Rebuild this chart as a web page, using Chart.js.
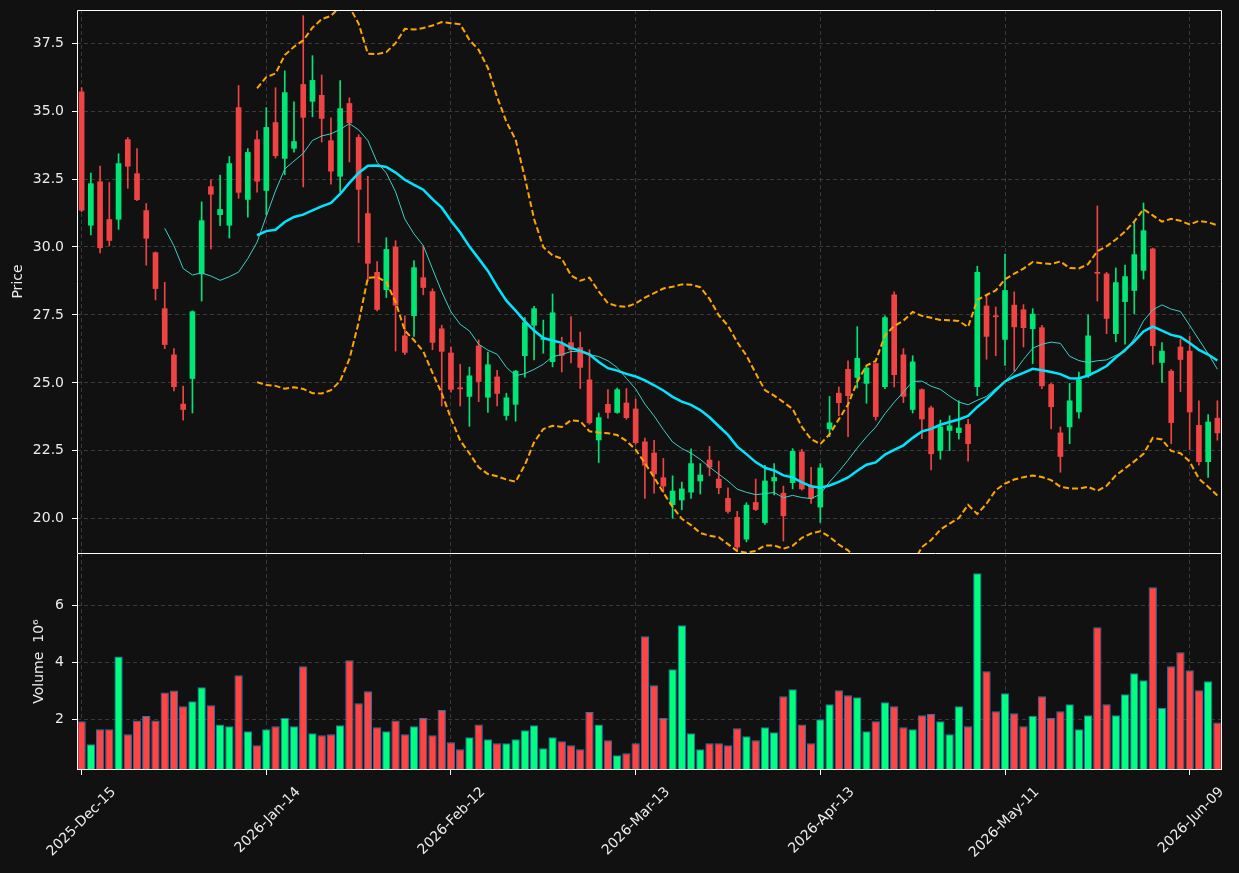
<!DOCTYPE html>
<html>
<head>
<meta charset="utf-8">
<script src="https://cdn.jsdelivr.net/npm/chart.js@4.4.1/dist/chart.umd.min.js"></script>
<style>
  html, body { margin: 0; padding: 0; background: #111111; }
  #wrap { position: relative; width: 1239px; height: 873px; }
  #priceBox { position: absolute; left: 0; top: 0; width: 1239px; height: 553px; }
  #volBox { position: absolute; left: 0; top: 553px; width: 1239px; height: 320px; }
</style>
</head>
<body>
<div id="wrap">
  <div id="priceBox"><canvas id="priceChart"></canvas></div>
  <div id="volBox"><canvas id="volChart"></canvas></div>
</div>
<script>
// trading days (categories)
const dates = [
  '2025-Dec-15','2025-Dec-16','2025-Dec-17','2025-Dec-18','2025-Dec-19','2025-Dec-22','2025-Dec-23','2025-Dec-24','2025-Dec-26','2025-Dec-29','2025-Dec-30','2025-Dec-31',
  '2026-Jan-02','2026-Jan-05','2026-Jan-06','2026-Jan-07','2026-Jan-08','2026-Jan-09','2026-Jan-12','2026-Jan-13','2026-Jan-14','2026-Jan-15','2026-Jan-16','2026-Jan-20','2026-Jan-21','2026-Jan-22','2026-Jan-23','2026-Jan-26','2026-Jan-27','2026-Jan-28','2026-Jan-29','2026-Jan-30',
  '2026-Feb-02','2026-Feb-03','2026-Feb-04','2026-Feb-05','2026-Feb-06','2026-Feb-09','2026-Feb-10','2026-Feb-11','2026-Feb-12','2026-Feb-13','2026-Feb-17','2026-Feb-18','2026-Feb-19','2026-Feb-20','2026-Feb-23','2026-Feb-24','2026-Feb-25','2026-Feb-26','2026-Feb-27',
  '2026-Mar-02','2026-Mar-03','2026-Mar-04','2026-Mar-05','2026-Mar-06','2026-Mar-09','2026-Mar-10','2026-Mar-11','2026-Mar-12','2026-Mar-13','2026-Mar-16','2026-Mar-17','2026-Mar-18','2026-Mar-19','2026-Mar-20','2026-Mar-23','2026-Mar-24','2026-Mar-25','2026-Mar-26','2026-Mar-27','2026-Mar-30','2026-Mar-31',
  '2026-Apr-01','2026-Apr-02','2026-Apr-06','2026-Apr-07','2026-Apr-08','2026-Apr-09','2026-Apr-10','2026-Apr-13','2026-Apr-14','2026-Apr-15','2026-Apr-16','2026-Apr-17','2026-Apr-20','2026-Apr-21','2026-Apr-22','2026-Apr-23','2026-Apr-24','2026-Apr-27','2026-Apr-28','2026-Apr-29','2026-Apr-30',
  '2026-May-01','2026-May-04','2026-May-05','2026-May-06','2026-May-07','2026-May-08','2026-May-11','2026-May-12','2026-May-13','2026-May-14','2026-May-15','2026-May-18','2026-May-19','2026-May-20','2026-May-21','2026-May-22','2026-May-26','2026-May-27','2026-May-28','2026-May-29',
  '2026-Jun-01','2026-Jun-02','2026-Jun-03','2026-Jun-04','2026-Jun-05','2026-Jun-08','2026-Jun-09','2026-Jun-10','2026-Jun-11','2026-Jun-12'
];

const openPrices = [
  35.71, 30.80, 32.40, 31.01, 31.02, 33.95, 32.70, 31.34, 29.79, 27.73,
  26.03, 24.22, 25.16, 29.01, 32.22, 31.19, 30.80, 35.13, 31.75, 33.95,
  32.08, 34.58, 33.26, 33.63, 35.98, 35.36, 35.58, 33.91, 32.60, 35.28,
  34.03, 31.23, 29.07, 28.43, 30.00, 26.73, 27.47, 28.87, 28.36, 26.99,
  26.10, 24.82, 24.50, 26.36, 24.47, 25.22, 23.80, 24.21, 26.00, 27.12,
  26.60, 25.78, 26.41, 26.48, 26.30, 25.11, 22.90, 24.21, 23.91, 24.26,
  24.04, 22.83, 22.42, 21.51, 20.52, 20.69, 20.98, 21.39, 22.16, 21.46,
  20.75, 20.05, 19.25, 20.60, 19.86, 21.39, 20.94, 21.33, 22.46, 21.20,
  20.43, 23.31, 24.62, 25.50, 25.20, 24.98, 25.71, 24.86, 28.24, 26.03,
  24.02, 24.75, 24.08, 22.51, 23.25, 23.17, 23.47, 24.86, 27.83, 27.47,
  26.60, 27.86, 27.69, 26.99, 27.03, 24.94, 23.16, 23.38, 23.93, 25.26,
  29.07, 29.01, 26.81, 27.99, 28.40, 29.14, 29.93, 25.75, 25.43, 26.32,
  26.17, 23.44, 22.10, 23.70
];
const highPrices = [
  35.86, 32.72, 32.98, 32.37, 33.43, 34.03, 33.62, 31.60, 29.82, 28.70,
  26.26, 24.88, 27.65, 31.66, 32.47, 32.65, 33.33, 35.94, 33.62, 34.27,
  35.13, 35.86, 36.48, 35.34, 38.51, 37.04, 36.33, 34.75, 36.12, 35.49,
  34.13, 32.60, 29.46, 30.34, 30.23, 27.47, 29.50, 30.04, 28.46, 27.12,
  26.32, 25.68, 25.58, 26.58, 26.13, 25.46, 24.62, 25.46, 27.40, 27.82,
  27.31, 28.27, 26.68, 27.44, 26.87, 26.22, 23.89, 24.75, 24.81, 24.79,
  24.40, 22.97, 22.89, 22.22, 21.58, 21.35, 22.57, 22.03, 22.66, 22.12,
  21.14, 20.27, 20.59, 21.46, 21.97, 22.03, 21.20, 22.58, 22.55, 21.89,
  22.03, 24.50, 24.85, 25.81, 27.07, 25.58, 25.74, 27.47, 28.35, 26.26,
  26.00, 24.78, 24.15, 23.63, 23.79, 24.34, 23.66, 29.29, 28.22, 27.79,
  29.74, 28.35, 27.88, 27.73, 27.12, 24.98, 23.38, 24.98, 25.40, 27.50,
  31.51, 29.07, 29.23, 29.33, 30.93, 31.62, 29.96, 26.48, 25.49, 26.60,
  26.71, 24.34, 23.83, 24.34
];
const lowPrices = [
  31.30, 30.44, 29.78, 30.04, 30.65, 32.16, 31.70, 29.33, 28.05, 26.26,
  24.70, 23.63, 23.89, 28.01, 29.93, 30.78, 30.33, 31.79, 31.10, 32.02,
  31.19, 33.27, 32.66, 33.49, 32.21, 34.79, 33.86, 32.31, 32.02, 33.13,
  30.16, 28.75, 27.65, 28.14, 26.17, 26.04, 26.71, 28.24, 26.22, 24.15,
  24.66, 24.15, 23.40, 24.31, 23.91, 24.15, 23.63, 23.59, 25.21, 25.84,
  26.09, 25.59, 25.40, 25.73, 24.79, 23.48, 22.07, 23.70, 23.88, 23.66,
  22.74, 20.75, 20.94, 20.97, 20.02, 20.33, 20.75, 20.91, 21.58, 20.92,
  20.21, 18.83, 19.15, 20.30, 19.79, 20.88, 19.18, 21.10, 21.05, 20.56,
  19.86, 23.02, 23.79, 23.02, 24.81, 24.25, 23.63, 24.79, 24.85, 24.27,
  23.89, 22.95, 21.80, 22.19, 22.51, 22.93, 22.12, 24.53, 25.87, 26.00,
  25.64, 25.43, 26.32, 25.71, 24.79, 23.31, 21.71, 22.76, 23.70, 25.20,
  28.01, 26.81, 26.51, 26.42, 27.54, 28.82, 25.68, 25.02, 22.76, 24.68,
  22.54, 21.97, 21.52, 22.89
];
const closePrices = [
  31.35, 32.33, 29.97, 30.24, 33.07, 32.97, 31.74, 30.32, 28.47, 26.41,
  24.86, 24.02, 27.62, 30.97, 31.94, 31.38, 33.07, 32.01, 33.48, 32.42,
  34.40, 33.36, 35.68, 33.88, 34.77, 36.13, 34.73, 32.79, 35.09, 34.57,
  32.12, 29.40, 27.70, 29.91, 27.86, 26.12, 29.24, 28.51, 26.49, 26.16,
  24.76, 24.78, 25.26, 25.05, 25.67, 24.61, 24.45, 25.43, 27.22, 27.73,
  26.64, 27.58, 26.01, 26.22, 25.57, 23.53, 23.72, 23.91, 24.75, 23.72,
  22.80, 21.97, 21.65, 21.20, 21.02, 21.10, 22.03, 21.61, 21.90, 21.14,
  20.27, 18.96, 20.50, 20.34, 21.39, 21.52, 20.11, 22.48, 21.10, 20.75,
  21.87, 23.53, 24.27, 24.53, 25.90, 25.55, 23.76, 27.40, 25.30, 24.50,
  25.77, 23.67, 22.39, 23.38, 23.42, 23.34, 22.76, 29.07, 26.71, 27.43,
  28.40, 27.06, 27.03, 27.53, 24.89, 24.12, 22.29, 24.34, 25.11, 26.73,
  29.03, 27.37, 28.69, 28.91, 29.72, 30.60, 26.37, 26.17, 23.54, 25.86,
  23.93, 22.10, 23.56, 23.16
];
// volume in millions (axis shows 10^6)
const volumeMillions = [
  1.93, 1.12, 1.65, 1.65, 4.20, 1.47, 1.96, 2.11, 1.96, 2.94,
  3.01, 2.46, 2.63, 3.12, 2.49, 1.82, 1.75, 3.54, 1.58, 1.09,
  1.65, 1.75, 2.04, 1.75, 3.86, 1.51, 1.44, 1.47, 1.79, 4.07,
  2.56, 2.98, 1.72, 1.58, 1.96, 1.47, 1.75, 2.04, 1.44, 2.32,
  1.19, 0.95, 1.37, 1.82, 1.30, 1.16, 1.16, 1.30, 1.61, 1.79,
  0.98, 1.37, 1.23, 1.09, 0.95, 2.25, 1.82, 1.26, 0.74, 0.81,
  1.16, 4.91, 3.19, 2.04, 3.75, 5.30, 1.51, 0.95, 1.16, 1.16,
  1.09, 1.68, 1.40, 1.26, 1.72, 1.54, 2.81, 3.05, 1.82, 1.16,
  2.00, 2.53, 3.02, 2.84, 2.77, 1.58, 1.93, 2.60, 2.46, 1.72,
  1.65, 2.14, 2.18, 1.93, 1.47, 2.46, 1.75, 7.12, 3.68, 2.28,
  2.91, 2.21, 1.75, 2.11, 2.81, 2.04, 2.28, 2.53, 1.65, 2.14,
  5.23, 2.53, 2.14, 2.88, 3.61, 3.37, 6.63, 2.39, 3.86, 4.35,
  3.72, 3.02, 3.33, 1.89
];

const priceTicks = [20.0, 22.5, 25.0, 27.5, 30.0, 32.5, 35.0, 37.5];
const volumeTicks = [2, 4, 6];
const labelEvery = 20;

// indicators from the closes
function sma(values, n) {
  return values.map((_, i) => {
    if (i < n - 1) return null;
    let s = 0;
    for (let k = i - n + 1; k <= i; k++) s += values[k];
    return s / n;
  });
}
function bollinger(values, n, mult, sign) {
  const mid = sma(values, n);
  return values.map((_, i) => {
    if (mid[i] === null) return null;
    let v = 0;
    for (let k = i - n + 1; k <= i; k++) v += (values[k] - mid[i]) ** 2;
    return mid[i] + sign * mult * Math.sqrt(v / n);
  });
}

const upCandle = '#00e676', downCandle = '#ef4444';
const upVol = '#00ff7f', downVol = '#ff4444';
const gridColor = '#3a3a3a';
const textColor = '#ececec';
const isUp = closePrices.map((c, i) => c >= openPrices[i]);

Chart.defaults.font.family = "'DejaVu Sans', sans-serif";
Chart.defaults.font.size = 14;
Chart.defaults.color = textColor;
Chart.defaults.animation = false;
Chart.defaults.plugins.legend.display = false;
Chart.defaults.plugins.tooltip.enabled = false;
Chart.defaults.maintainAspectRatio = false;

const framePlugin = {
  id: 'frame',
  afterDraw(chart, args, opts) {
    const { ctx, chartArea: a } = chart;
    ctx.save();
    ctx.strokeStyle = '#ffffff';
    ctx.lineWidth = 1;
    ctx.beginPath();
    ctx.moveTo(a.left + 0.5, a.bottom);
    ctx.lineTo(a.left + 0.5, a.top + 0.5);
    ctx.lineTo(a.right - 0.5, a.top + 0.5);
    ctx.lineTo(a.right - 0.5, a.bottom);
    if (opts.bottom) {
      ctx.moveTo(a.left, a.bottom - 0.5);
      ctx.lineTo(a.right, a.bottom - 0.5);
    }
    ctx.stroke();
    ctx.restore();
  }
};

const everyNth = (c) => c.index % labelEvery === 0;
// no extra room for half labels at the axis ends
const noPad = (s) => { s.paddingTop = 0; s.paddingBottom = 0; s.paddingLeft = 0; s.paddingRight = 0; };

new Chart(document.getElementById('priceChart'), {
  type: 'bar',
  data: {
    labels: dates,
    datasets: [
      {
        type: 'line', label: 'MA10', data: sma(closePrices, 10),
        borderColor: '#3ccfc6', borderWidth: 1, pointRadius: 0, order: 1
      },
      {
        type: 'line', label: 'MA20', data: sma(closePrices, 20),
        borderColor: '#00e5ff', borderWidth: 2.5, pointRadius: 0, order: 1
      },
      {
        type: 'line', label: 'Upper', data: bollinger(closePrices, 20, 2, 1),
        borderColor: '#ffa500', borderWidth: 2, borderDash: [6, 3], pointRadius: 0, order: 1
      },
      {
        type: 'line', label: 'Lower', data: bollinger(closePrices, 20, 2, -1),
        borderColor: '#ffa500', borderWidth: 2, borderDash: [6, 3], pointRadius: 0, order: 1
      },
      {
        label: 'Body', data: openPrices.map((o, i) => [o, closePrices[i]]),
        backgroundColor: isUp.map(u => u ? upCandle : downCandle),
        barThickness: 5, minBarLength: 1, grouped: false, order: 2
      },
      {
        label: 'Wick', data: lowPrices.map((l, i) => [l, highPrices[i]]),
        backgroundColor: isUp.map(u => u ? upCandle : downCandle),
        barThickness: 1, grouped: false, order: 3
      }
    ]
  },
  options: {
    layout: { padding: { top: 10, right: 17, left: 0, bottom: 0 } },
    scales: {
      x: {
        offset: true,
        ticks: { display: false, autoSkip: false },
        grid: { offset: false, drawTicks: false, color: c => everyNth(c) ? gridColor : 'transparent' },
        border: { display: false, dash: [4, 3] },
        afterFit: s => { noPad(s); s.height = 0; }
      },
      y: {
        min: 18.74, max: 38.72,
        afterBuildTicks: s => { s.ticks = priceTicks.map(v => ({ value: v })); },
        ticks: { callback: v => v.toFixed(1), padding: 8, color: textColor },
        grid: { color: gridColor, tickColor: '#ffffff', tickLength: 5 },
        border: { display: false, dash: [4, 3] },
        title: { display: true, text: 'Price', color: textColor, padding: { top: 10, bottom: 0 } },
        afterFit: s => { noPad(s); s.width = 77; }
      }
    },
    plugins: { frame: { bottom: false } }
  },
  plugins: [framePlugin]
});

new Chart(document.getElementById('volChart'), {
  type: 'bar',
  data: {
    labels: dates,
    datasets: [{
      label: 'Volume', data: volumeMillions,
      backgroundColor: isUp.map(u => u ? upVol : downVol),
      borderColor: '#1f77b4', borderWidth: 1,
      barPercentage: 0.9, categoryPercentage: 1.0
    }]
  },
  options: {
    layout: { padding: { top: 0, right: 17, left: 0, bottom: 0 } },
    scales: {
      x: {
        offset: true,
        ticks: {
          autoSkip: false, minRotation: 45, maxRotation: 45, labelOffset: 32, padding: 9,
          color: textColor,
          callback: (v, i) => i % labelEvery === 0 ? dates[i] : ''
        },
        grid: {
          offset: false, tickLength: 5,
          color: c => everyNth(c) ? gridColor : 'transparent',
          tickColor: c => everyNth(c) ? '#ffffff' : 'transparent'
        },
        border: { display: false, dash: [4, 3] },
        afterFit: s => { noPad(s); s.height = 103; }
      },
      y: {
        min: 0.22, max: 7.83,
        afterBuildTicks: s => { s.ticks = volumeTicks.map(v => ({ value: v })); },
        ticks: { callback: v => String(v), padding: 8, color: textColor },
        grid: { color: gridColor, tickColor: '#ffffff', tickLength: 5 },
        border: { display: false, dash: [4, 3] },
        title: { display: true, text: 'Volume  10\u2076', color: textColor, padding: { top: 31, bottom: 0 } },
        afterFit: s => { noPad(s); s.width = 77; }
      }
    },
    plugins: { frame: { bottom: true } }
  },
  plugins: [framePlugin]
});
</script>
</body>
</html>
